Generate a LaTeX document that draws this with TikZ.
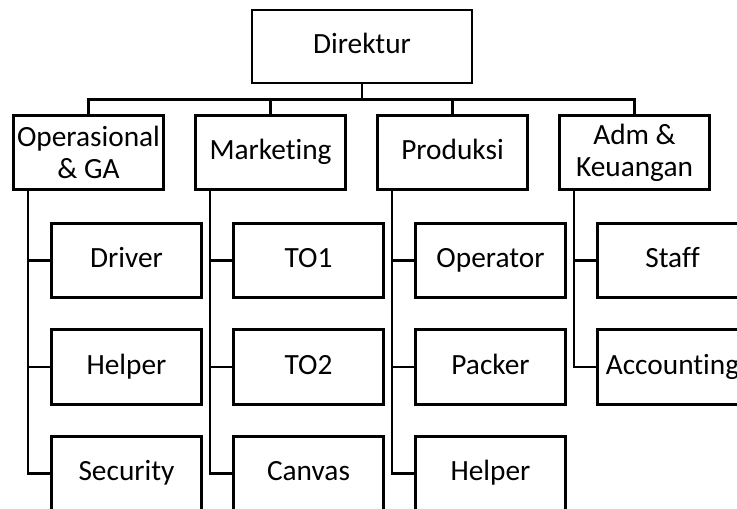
\documentclass[tikz,border=0pt]{standalone}
\usepackage{fontspec}
\setmainfont{Carlito}[Ligatures={NoCommon,NoRare,NoContextual}]
\usetikzlibrary{calc}

\tikzset{
  box/.style={draw, line width=2.2pt, minimum width=113pt, minimum height=56pt,
    align=center, inner sep=1pt, font=\fontsize{22}{24}\selectfont},
  unitbox/.style={box, text height=16.5pt, text depth=5.5pt},
  link/.style={line width=2.2pt},
  branch/.style={line width=1.7pt},
}

\begin{document}
\begin{tikzpicture}[x=0.75pt, y=-0.75pt]
  \useasboundingbox (0,0) rectangle (737,508);
  \clip (0,0) rectangle (737,508);

  % Top
  \node[unitbox, minimum width=165pt, minimum height=54.75pt] (dir) at (362,46.5) {Direktur};

  % Divisions
  \node[box] (ops) at (88.5,152.5) {Operasional\\\& GA};
  \node[unitbox] (mkt) at (270.5,152.5) {Marketing};
  \node[unitbox] (prd) at (452.5,152.5) {Produksi};
  \node[box] (adm) at (634.5,152.5) {Adm \&\\Keuangan};

  % Bus from Direktur
  \foreach \d in {ops,mkt,prd,adm}
    \draw[link] (dir.south) -- ($(dir.south)!.5!(dir.south |- \d.north)$) -| (\d.north);

  % Staff boxes
  \node[unitbox] (ops1) at (126.5,260.5) {Driver};
  \node[unitbox] (ops2) at (126.5,367) {Helper};
  \node[unitbox] (ops3) at (126.5,473.5) {Security};
  \node[unitbox] (mkt1) at (308.5,260.5) {TO1};
  \node[unitbox] (mkt2) at (308.5,367) {TO2};
  \node[unitbox] (mkt3) at (308.5,473.5) {Canvas};
  \node[unitbox] (prd1) at (490.5,260.5) {Operator};
  \node[unitbox] (prd2) at (490.5,367) {Packer};
  \node[unitbox] (prd3) at (490.5,473.5) {Helper};
  \node[unitbox] (adm1) at (672.5,260.5) {Staff};
  \node[unitbox] (adm2) at (672.5,367) {Accounting};

  % Branches
  \foreach \d/\n in {ops/3,mkt/3,prd/3,adm/2}
    \foreach \i in {1,...,\n}
      \draw[branch] ([xshift=12pt]\d.south west) |- (\d\i.west);
\end{tikzpicture}
\end{document}
